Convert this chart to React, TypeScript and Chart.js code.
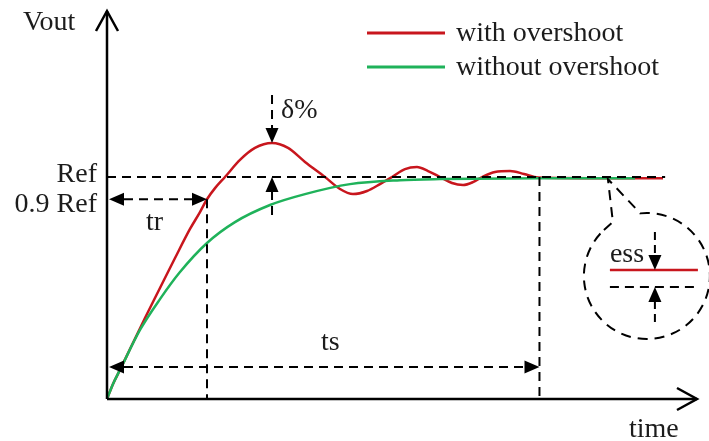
import React, { useEffect, useRef } from "react";
import { Chart, registerables } from "chart.js";

Chart.register(...registerables);

// Step response with overshoot (underdamped)
const timeWithOvershoot = [
  0, 1.02, 2.2, 3.9, 6.44, 8.98, 11.53, 14.07, 15.76, 16.95, 18.31, 20.0, 22.54, 25.08, 27.97,
  30.68, 33.56, 36.95, 39.49, 41.69, 44.07, 46.27, 48.31, 50.51, 52.54, 54.41, 56.44, 58.47,
  60.34, 62.03, 63.56, 65.76, 68.31, 70.68, 73.05, 83.56, 94.24,
];
const voutWithOvershoot = [
  0, 0.068, 0.131, 0.225, 0.365, 0.5, 0.635, 0.766, 0.842, 0.9, 0.95, 1.0, 1.077, 1.131, 1.153,
  1.131, 1.068, 1.0, 0.946, 0.923, 0.937, 0.968, 1.0, 1.036, 1.045, 1.027, 1.0, 0.973,
  0.964, 0.977, 1.0, 1.023, 1.027, 1.014, 0.998, 0.995, 0.995,
];

// Step response without overshoot (overdamped)
const timeWithoutOvershoot = [
  0, 1.02, 2.2, 5.59, 8.98, 12.37, 16.95, 21.69, 27.63, 33.56, 41.19, 49.66, 56.44, 73.39, 89.49,
];
const voutWithoutOvershoot = [
  0, 0.068, 0.131, 0.311, 0.45, 0.572, 0.703, 0.797, 0.874, 0.923, 0.968, 0.986, 0.991, 0.995, 0.995,
];

const seriesLabels = ["with overshoot", "without overshoot"];
const seriesColors = ["#c8161d", "#1fb25a"];

// Levels and times marked on the diagram
const REF = 1;
const RISE_LEVEL = 0.9;
const yTickLabels = ["Ref", "0.9 Ref"];
const T_RISE = 16.95;
const T_SETTLE = 73.3;
const T_PEAK = 27.97;
const PEAK = 1.153;
const TS_ARROW_LEVEL = 0.144;
const REF_LINE_END = 94.6;
const CALLOUT_TIME = 84.9;
const X_MAX = 100;
const Y_MAX = 1.748;

const FONT = '28px "Liberation Serif", "Times New Roman", serif';
const INK = "#1c1c1c";

function arrowHead(ctx: CanvasRenderingContext2D, tx: number, ty: number, dx: number, dy: number, len = 15, half = 6.5) {
  const bx = tx - dx * len;
  const by = ty - dy * len;
  const px = -dy;
  const py = dx;
  ctx.beginPath();
  ctx.moveTo(tx, ty);
  ctx.lineTo(bx + px * half, by + py * half);
  ctx.lineTo(bx - px * half, by - py * half);
  ctx.closePath();
  ctx.fill();
}

function dashed(ctx: CanvasRenderingContext2D, x1: number, y1: number, x2: number, y2: number, dash = [9, 6]) {
  ctx.setLineDash(dash);
  ctx.beginPath();
  ctx.moveTo(x1, y1);
  ctx.lineTo(x2, y2);
  ctx.stroke();
  ctx.setLineDash([]);
}

const annotations = {
  id: "stepAnnotations",
  afterDatasetsDraw(chart: any) {
    const { ctx, chartArea, scales } = chart;
    const X = (v: number) => scales.x.getPixelForValue(v);
    const Y = (v: number) => scales.y.getPixelForValue(v);
    const x0 = X(0);
    const y0 = Y(0);

    ctx.save();
    ctx.strokeStyle = "#000";
    ctx.fillStyle = "#000";
    ctx.lineCap = "butt";

    // Axes with open arrow tips
    ctx.lineWidth = 2.5;
    ctx.beginPath();
    ctx.moveTo(x0, y0);
    ctx.lineTo(x0, chartArea.top);
    ctx.moveTo(x0, y0);
    ctx.lineTo(chartArea.right, y0);
    ctx.stroke();
    ctx.lineJoin = "miter";
    ctx.beginPath();
    ctx.moveTo(x0 - 11, chartArea.top + 20);
    ctx.lineTo(x0, chartArea.top);
    ctx.lineTo(x0 + 11, chartArea.top + 20);
    ctx.moveTo(chartArea.right - 20, y0 - 11);
    ctx.lineTo(chartArea.right, y0);
    ctx.lineTo(chartArea.right - 20, y0 + 11);
    ctx.stroke();

    ctx.lineWidth = 2;
    // Reference level
    dashed(ctx, x0, Y(REF), X(REF_LINE_END), Y(REF));

    // Rise time
    const yr = Y(RISE_LEVEL);
    arrowHead(ctx, x0 + 2, yr, -1, 0);
    arrowHead(ctx, X(T_RISE), yr, 1, 0);
    dashed(ctx, x0 + 17, yr, X(T_RISE) - 15, yr);
    dashed(ctx, X(T_RISE), yr, X(T_RISE), y0);

    // Settling time
    const ys = Y(TS_ARROW_LEVEL);
    arrowHead(ctx, x0 + 2, ys, -1, 0);
    arrowHead(ctx, X(T_SETTLE), ys, 1, 0);
    dashed(ctx, x0 + 17, ys, X(T_SETTLE) - 15, ys);
    dashed(ctx, X(T_SETTLE), Y(REF), X(T_SETTLE), y0);

    // Overshoot
    const xp = X(T_PEAK);
    dashed(ctx, xp, Y(PEAK) - 48, xp, Y(PEAK) - 14);
    arrowHead(ctx, xp, Y(PEAK), 0, 1);
    arrowHead(ctx, xp, Y(REF), 0, -1);
    dashed(ctx, xp, Y(REF) + 14, xp, Y(REF) + 44);

    // Steady-state error callout
    const tipX = X(CALLOUT_TIME);
    const tipY = Y(REF) + 2;
    const cx = tipX + 39;
    const cy = tipY + 97;
    const r = 63;
    const a0 = (-96 * Math.PI) / 180;
    const a1 = (227 * Math.PI) / 180;
    ctx.setLineDash([10, 7]);
    ctx.beginPath();
    ctx.moveTo(cx + r * Math.cos(a1), cy + r * Math.sin(a1));
    ctx.lineTo(tipX + 5, tipY + 43);
    ctx.lineTo(tipX, tipY);
    ctx.lineTo(cx + r * Math.cos(a0), cy + r * Math.sin(a0));
    ctx.arc(cx, cy, r, a0, a1);
    ctx.stroke();
    ctx.setLineDash([]);

    const lx1 = cx - 37;
    const lx2 = cx + 51;
    const redY = cy - 6;
    const refY = cy + 11;
    const ax = cx + 8;
    ctx.strokeStyle = seriesColors[0];
    ctx.lineWidth = 2.5;
    ctx.beginPath();
    ctx.moveTo(lx1, redY);
    ctx.lineTo(lx2, redY);
    ctx.stroke();
    ctx.strokeStyle = "#000";
    ctx.lineWidth = 2;
    dashed(ctx, lx1, refY, lx2, refY, [9, 6]);
    dashed(ctx, ax, cy - 44, ax, redY - 14, [8, 5]);
    arrowHead(ctx, ax, redY, 0, 1);
    arrowHead(ctx, ax, refY, 0, -1);
    dashed(ctx, ax, refY + 14, ax, cy + 49, [8, 5]);

    // Legend
    const legendX = 367;
    const legendRows = [33, 67];
    seriesLabels.forEach((label, i) => {
      ctx.strokeStyle = seriesColors[i];
      ctx.lineWidth = 3;
      ctx.beginPath();
      ctx.moveTo(legendX, legendRows[i]);
      ctx.lineTo(legendX + 78, legendRows[i]);
      ctx.stroke();
    });

    // Texts
    ctx.font = FONT;
    ctx.fillStyle = INK;
    ctx.textBaseline = "alphabetic";
    ctx.textAlign = "left";
    seriesLabels.forEach((label, i) => {
      ctx.fillText(label, 456, legendRows[i] + 8);
    });
    ctx.fillText("Vout", 23, 30);
    ctx.fillText("time", 629, 437);
    ctx.fillText("tr", 146, yr + 31);
    ctx.fillText("ts", 321, ys - 17);
    ctx.fillText("δ%", xp + 9, Y(PEAK) - 25);
    ctx.fillText("ess", lx1, cy - 14);
    ctx.textAlign = "right";
    ctx.fillText(yTickLabels[0], x0 - 10, Y(REF) + 5);
    ctx.fillText(yTickLabels[1], x0 - 10, yr + 13);

    ctx.restore();
  },
};

export default function App() {
  const canvasRef = useRef<HTMLCanvasElement | null>(null);

  useEffect(() => {
    const canvas = canvasRef.current;
    if (!canvas) return;
    const chart = new Chart(canvas, {
      type: "line",
      data: {
        datasets: [
          {
            label: seriesLabels[0],
            data: timeWithOvershoot.map((t, i) => ({ x: t, y: voutWithOvershoot[i] })),
            borderColor: seriesColors[0],
            borderWidth: 2.5,
            pointRadius: 0,
            cubicInterpolationMode: "monotone",
            fill: false,
            order: 2,
          },
          {
            label: seriesLabels[1],
            data: timeWithoutOvershoot.map((t, i) => ({ x: t, y: voutWithoutOvershoot[i] })),
            borderColor: seriesColors[1],
            borderWidth: 2.5,
            pointRadius: 0,
            cubicInterpolationMode: "monotone",
            fill: false,
            order: 1,
          },
        ],
      },
      options: {
        animation: false,
        responsive: false,
        devicePixelRatio: 1,
        layout: { padding: { left: 107, right: 12, top: 11, bottom: 42 } },
        scales: {
          x: { type: "linear", min: 0, max: X_MAX, display: false },
          y: { type: "linear", min: 0, max: Y_MAX, display: false },
        },
        plugins: {
          legend: { display: false },
          tooltip: { enabled: false },
        },
        events: [],
      },
      plugins: [annotations],
    });
    return () => chart.destroy();
  }, []);

  return (
    <div style={{ position: "fixed", left: 0, top: 0, width: 709, height: 441, background: "#fff" }}>
      <canvas ref={canvasRef} width={709} height={441} />
    </div>
  );
}
